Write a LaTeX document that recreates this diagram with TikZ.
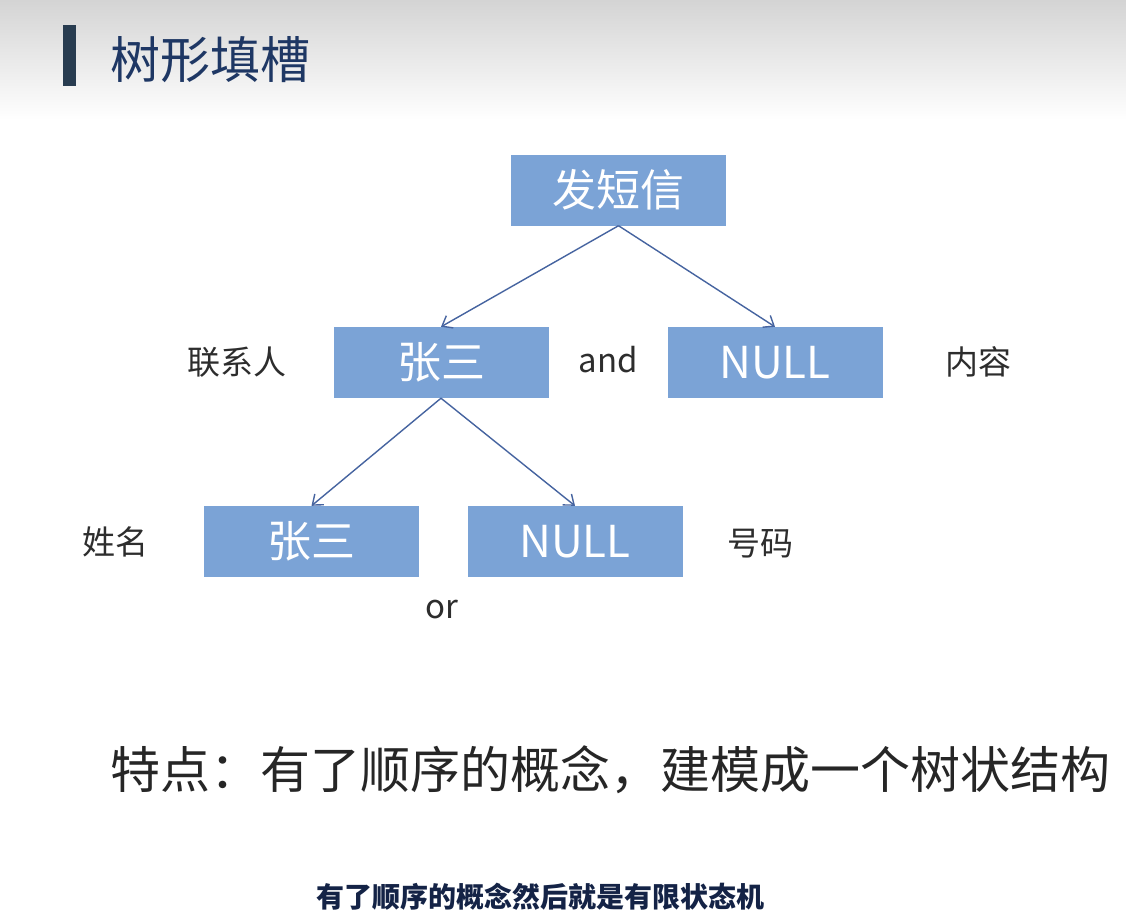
\documentclass[tikz,border=0pt]{standalone}
\usepackage{fontspec}
\setmainfont{Noto Sans CJK SC}
\newfontfamily\cjk{Noto Sans CJK SC}
\usetikzlibrary{arrows.meta}
\definecolor{boxblue}{RGB}{123,163,214}
\definecolor{arrowblue}{RGB}{70,100,160}
\definecolor{titleblue}{RGB}{30,55,100}
\definecolor{barcol}{RGB}{40,60,80}
\definecolor{labgray}{RGB}{45,45,45}
\definecolor{subblue}{RGB}{20,35,70}
\tikzset{
  box/.style={rectangle, fill=boxblue, minimum width=215pt, minimum height=71pt, inner sep=0pt, text=white, font=\cjk\fontsize{44}{44}\selectfont},
  lab/.style={text=labgray, inner sep=0pt, font=\cjk\fontsize{33}{33}\selectfont},
  conn/.style={draw=arrowblue, line width=1.4pt, -{Straight Barb[length=9pt,width=14pt,line width=1.4pt]}}
}
\begin{document}
\begin{tikzpicture}[x=1pt,y=-1pt]
\useasboundingbox (0,0) rectangle (1126,913);
\fill[white] (0,0) rectangle (1126,913);
\shade[top color={rgb,255:red,212;green,212;blue,212}, bottom color=white] (0,0) rectangle (1126,120);
\fill[barcol] (63,25) rectangle (76,86);
\node[anchor=west, inner sep=0pt, text=titleblue, font=\cjk\fontsize{50}{50}\selectfont] (title) at (110,60) {树形填槽};

\node[box] (root) at (618.5,190) {发短信};
\node[box] (zs1) at (441,362.5) {张三};
\node[box] (null1) at (775,362.5) {NULL};
\node[box] (zs2) at (311.5,541.5) {张三};
\node[box] (null2) at (575,541.5) {NULL};

\draw[conn] (root.south) -- (zs1.north);
\draw[conn] (root.south) -- (null1.north);
\draw[conn] (zs1.south) -- (zs2.north);
\draw[conn] (zs1.south) -- (null2.north);

\node[lab] (l1) at (237,362) {联系人};
\node[lab] (and) at (608,360) {and};
\node[lab] (l2) at (978,362) {内容};
\node[lab] (l3) at (115,542) {姓名};
\node[lab] (l4) at (760,544) {号码};
\node[lab] (or) at (442,610) {or};

\node[inner sep=0pt, text=black!85, font=\cjk\fontsize{50}{50}\selectfont] (feat) at (610,770) {特点：有了顺序的概念，建模成一个树状结构};
\node[inner sep=0pt, anchor=south, text=subblue, font=\cjk\bfseries\fontsize{28}{28}\selectfont] (sub) at (540,910) {有了顺序的概念然后就是有限状态机};
\end{tikzpicture}
\end{document}
